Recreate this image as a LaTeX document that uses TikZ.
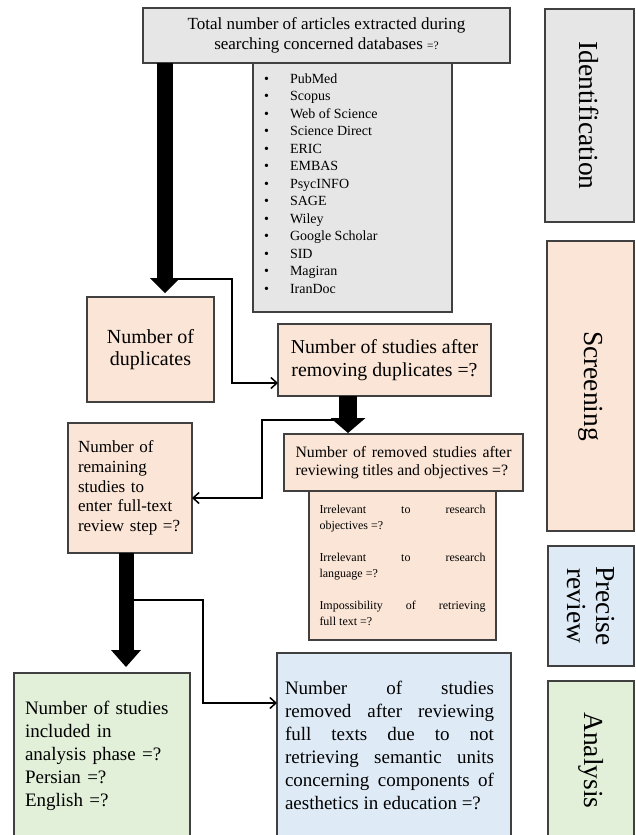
\documentclass[tikz,border=0pt]{standalone}
\usepackage{fontspec}
\setmainfont{Liberation Serif}
\usetikzlibrary{arrows.meta,calc}
\definecolor{cgray}{HTML}{E7E6E6}
\definecolor{cpeach}{HTML}{FBE5D6}
\definecolor{cblue}{HTML}{DEEBF7}
\definecolor{cgreen}{HTML}{E2F0D9}
\newcommand\fz[2]{\fontsize{#1}{#2}\selectfont}
\newcommand\jline[1]{\makebox[\linewidth][s]{#1}}
\newcommand\li[1]{\makebox[26pt][l]{\textbullet}#1}
\begin{document}
\begin{tikzpicture}[x=1pt,y=-1pt,
 box/.style={draw=black!75, line width=1.5pt, inner sep=0pt, outer sep=0pt, anchor=north west},
 bx/.style 2 args={minimum width=#1pt, minimum height=#2pt},
 side/.style={draw=black!75, line width=1.5pt, inner sep=0pt, outer sep=0pt, rotate=-90, font=\fz{27.5}{29}, align=center},
 thinarr/.style={draw=black, line width=1.5pt, -{Straight Barb[length=6pt,width=11pt]}},
 fatarr/.style n args={3}{draw=black, line width=#1pt, -{Triangle[width=#2pt,length=#3pt,line width=0pt]}},
]
\useasboundingbox (0,0) rectangle (636,835);
\fill[white] (0,0) rectangle (636,835);

% boxes
\node[box, fill=cgray, bx={199}{249}] (list) at (253,63)
  {\raisebox{4pt}[\height][\depth]{\parbox{177pt}{\fz{14}{17.5}\raggedright
   \li{PubMed}\\\li{Scopus}\\\li{Web of Science}\\\li{Science Direct}\\\li{ERIC}\\\li{EMBAS}\\\li{PsycINFO}\\\li{SAGE}\\\li{Wiley}\\\li{Google Scholar}\\\li{SID}\\\li{Magiran}\\\li{IranDoc}}}};
\node[box, fill=cgray, bx={367}{55}, align=center, font=\fz{17}{20}] (top) at (143,8)
  {Total number of articles extracted during\\searching concerned databases {\fz{11.5}{20}=?}};
\node[box, fill=cpeach, bx={127}{105}, align=center, font=\fz{20}{22}] (dup) at (87,297)
  {Number of\\duplicates};
\node[box, fill=cpeach, bx={213}{72}, align=center, font=\fz{19.8}{23}] (afterdup) at (278,324)
  {Number of studies after\\removing duplicates =?};
\node[box, fill=cpeach, bx={239}{57}] (removed) at (284,434)
  {\parbox{216pt}{\fz{15.8}{18}\jline{Number of removed studies after}\\reviewing titles and objectives =?}};
\node[box, fill=cpeach, bx={187}{149}] (sub) at (309,491)
  {\parbox{166pt}{\fz{12}{16}\jline{Irrelevant to research}\\objectives =?\\[16pt]\jline{Irrelevant to research}\\language =?\\[16pt]\jline{Impossibility of retrieving}\\full text =?}};
\node[box, fill=cpeach, bx={124}{130}, text width=104pt, align=left, font=\fz{17}{19.7}] (remaining) at (68,423)
  {Number of\\remaining\\studies to\\enter full-text\\review step =?};
\node[box, fill=cgreen, bx={176}{166}, text width=154pt, align=left, font=\fz{19}{23}] (green) at (14,673)
  {Number of studies\\included in\\analysis phase =?\\Persian =?\\English =?};
\node[box, fill=cblue, bx={234}{185}] (blue) at (277,653)
  {\hspace*{-9pt}\parbox{209pt}{\fz{19}{23}\jline{Number of studies}\\\jline{removed after reviewing}\\\jline{full texts due to not}\\\jline{retrieving semantic units}\\\jline{concerning components of}\\aesthetics in education =?}};

% side labels
\node[side, fill=cgray, minimum width=213pt, minimum height=89pt] (ident) at (589.5,115.5) {Identification};
\node[side, fill=cpeach, minimum width=290pt, minimum height=87pt] (screen) at (590.5,386) {Screening};
\node[side, fill=cblue, minimum width=120pt, minimum height=86pt] (precise) at (591,606) {Precise\\review};
\node[side, fill=cgreen, minimum width=159pt, minimum height=86pt] (analysis) at (591,760.5) {Analysis};

% connectors
\coordinate (xa) at (165,0);
\coordinate (xb) at (348,0);
\coordinate (xc) at (126,0);
\coordinate (b1) at (173,279);
\coordinate (b2) at (339,420);
\coordinate (b3) at (133,600);
\draw[thinarr] (b1) -| ($(afterdup.south west)+(-46,-13)$) -- ($(afterdup.south west)+(0,-13)$);
\draw[thinarr] (b2) -| ($(remaining.east)+(70,10)$) -- ($(remaining.east)+(0,10)$);
\draw[thinarr] (b3) -| ($(blue.north west)+(-74,50)$) -- ($(blue.north west)+(0,50)$);
\draw[fatarr={16}{30}{15}] (top.south -| xa) -- ($(dup.north -| xa)+(0,-4)$);
\draw[fatarr={18}{35}{15}] (afterdup.south -| xb) -- ($(removed.north -| xb)+(0,-1)$);
\draw[fatarr={15}{30}{17}] (remaining.south -| xc) -- ($(green.north -| xc)+(0,-6)$);
\end{tikzpicture}
\end{document}
